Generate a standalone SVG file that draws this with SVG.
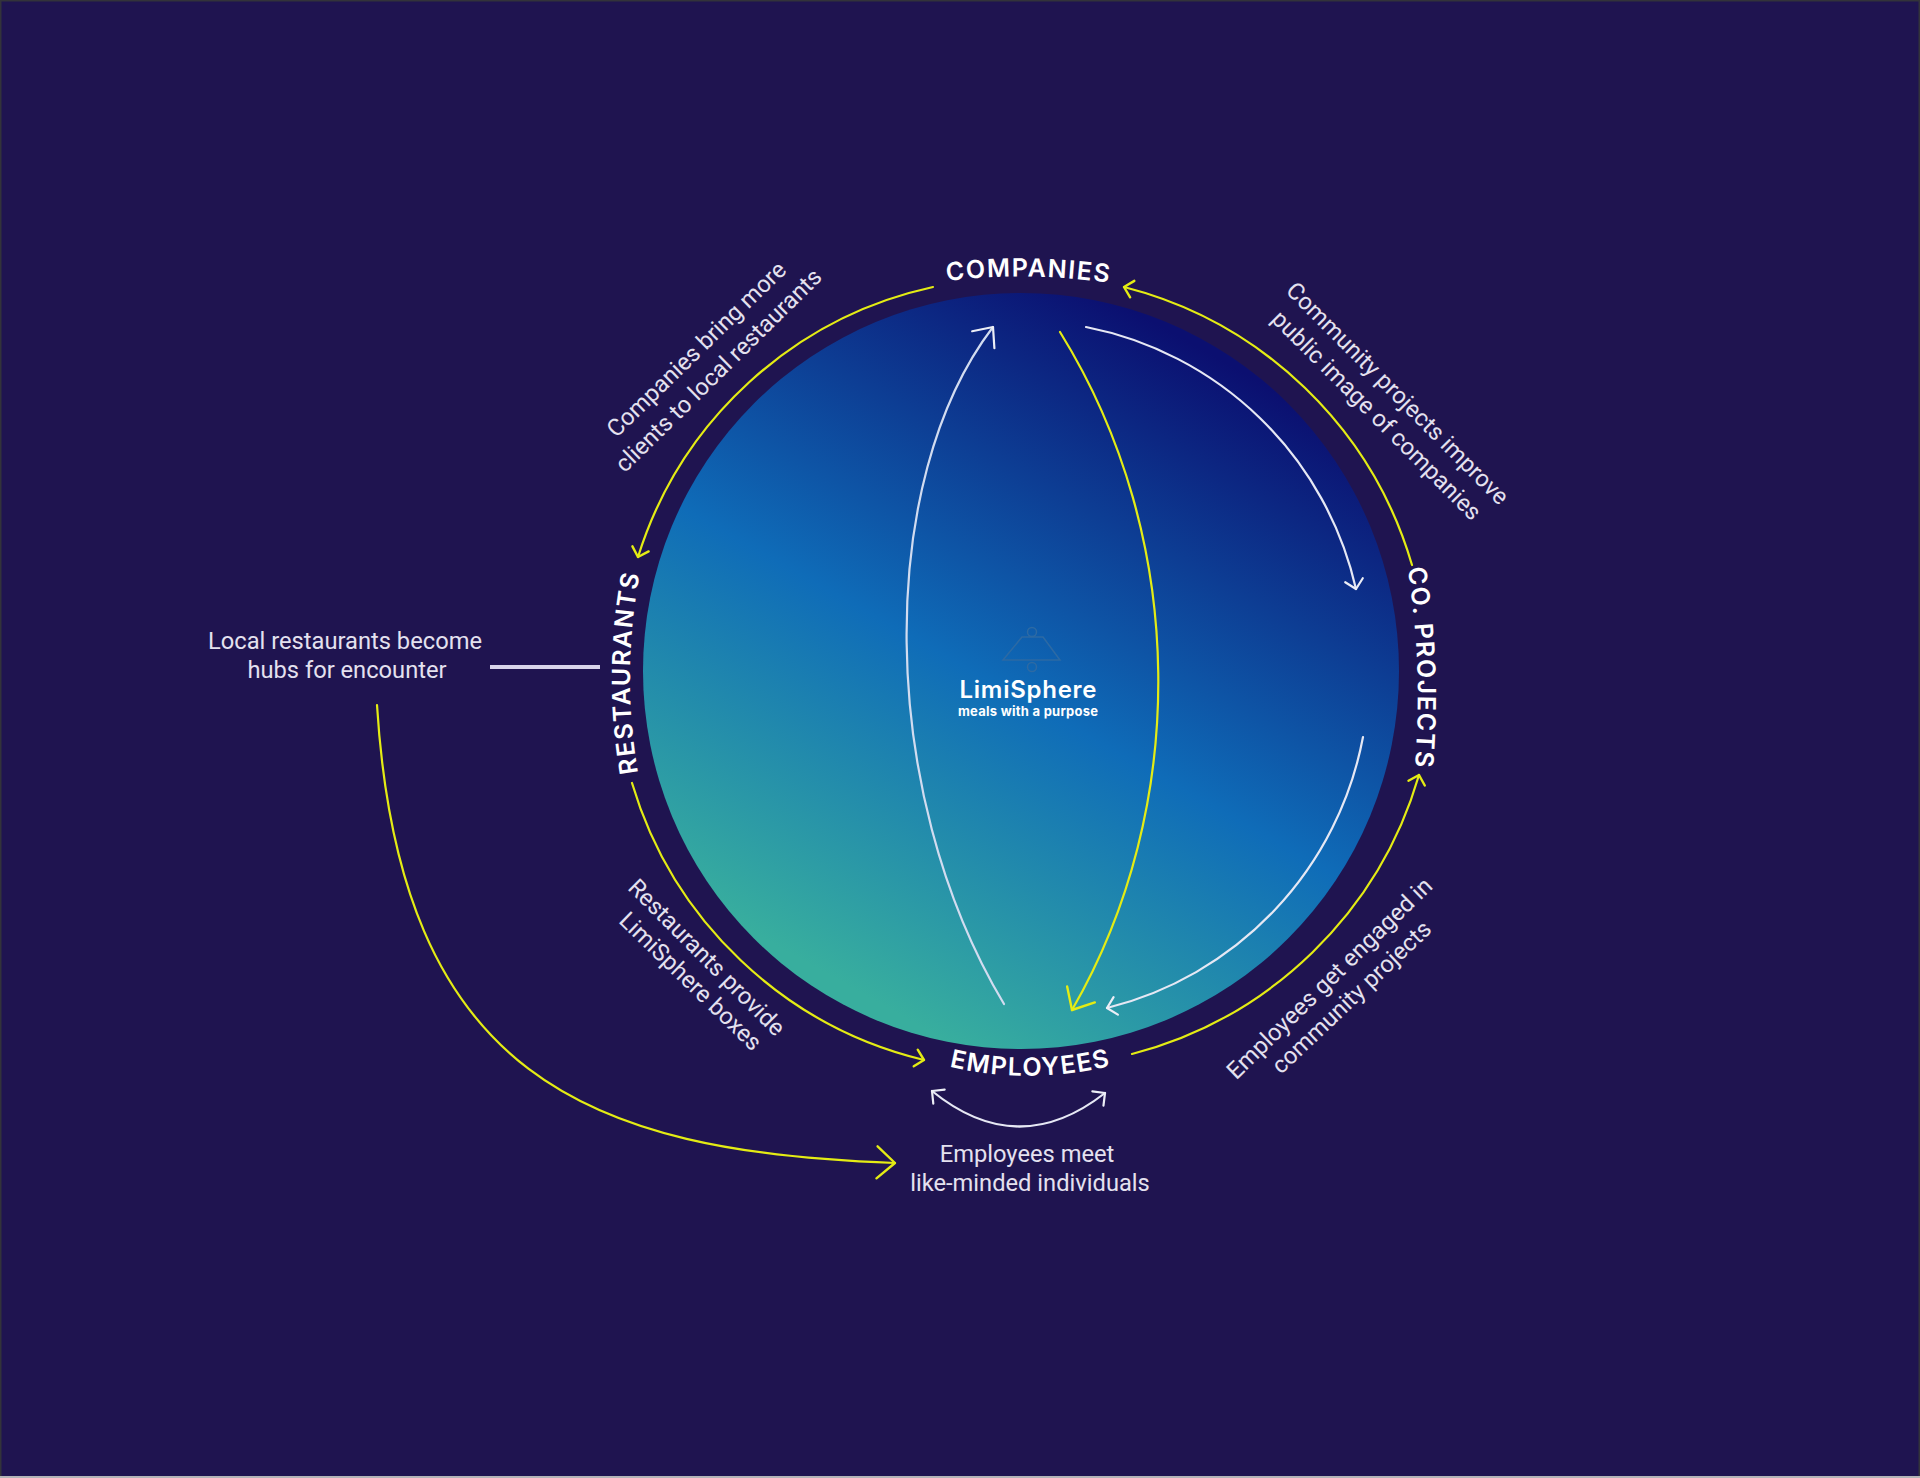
<svg xmlns="http://www.w3.org/2000/svg" width="1920" height="1478" viewBox="0 0 1920 1478">
<style>
.lbl{font-family:Roboto,"Liberation Sans",sans-serif;font-size:23.700px;fill:#e4e1ef;text-anchor:middle}
.nd{font-family:Inter,"Liberation Sans",sans-serif;font-size:25px;font-weight:600;fill:#fff;text-anchor:middle;letter-spacing:1.500px}
.y{fill:none;stroke:#e4ec14;stroke-width:2.200;stroke-linecap:round}
.w{fill:none;stroke:#e6e8f4;stroke-width:2.200;stroke-linecap:round}
.my{fill:none;stroke:#e4ec14;stroke-width:2.400;stroke-linecap:round;stroke-linejoin:round}
.mw{fill:none;stroke:#eceef6;stroke-width:2.200;stroke-linecap:round;stroke-linejoin:round}
</style>
<defs>
<linearGradient id="g" gradientUnits="userSpaceOnUse" x1="845" y1="984" x2="1202" y2="349">
<stop offset="0" stop-color="#38ae9e"/><stop offset=".46" stop-color="#0f6cb8"/><stop offset="1" stop-color="#0b0f70"/>
</linearGradient>
<marker id="ys" markerUnits="userSpaceOnUse" markerWidth="24" markerHeight="24" refX="12" refY="12" orient="auto" overflow="visible"><path class="my" d="M3.500 3.500L12 12L3.500 20.500"/></marker>
<marker id="yl" markerUnits="userSpaceOnUse" markerWidth="48" markerHeight="48" refX="24" refY="24" orient="auto" overflow="visible"><path class="my" d="M6 8L24 24L6 40"/></marker>
<marker id="ws" markerUnits="userSpaceOnUse" markerWidth="24" markerHeight="24" refX="12" refY="12" orient="auto-start-reverse" overflow="visible"><path class="mw" d="M3 3L12 12L3 21"/></marker>
<marker id="wl" markerUnits="userSpaceOnUse" markerWidth="48" markerHeight="48" refX="24" refY="24" orient="auto" overflow="visible"><path class="mw" d="M8 10L24 24L8 38"/></marker>
<path id="pc" d="M947 281Q1028 271 1110 283"/>
<path id="pp" d="M1408 570Q1423 668 1415 766"/>
<path id="pe" d="M951 1067Q1030 1085 1110 1066"/>
<path id="pr" d="M638 773Q621 673 640 573"/>
</defs>
<rect id="background" width="1920" height="1478" fill="#1f1450"/>
<path id="frame" fill="none" stroke="#33333a" stroke-width="1.500" d="M.75 1477V.75H1919.250V1477"/>
<path id="frame-bottom" fill="none" stroke="#b4b4b8" stroke-width="2" d="M0 1477H1920"/>
<g id="sphere"><circle cx="1021" cy="671" r="378" fill="url(#g)"/></g>
<g id="connectors">
<path class="y" marker-end="url(#ys)" d="M933 287A398 398 0 0 0 638 557"/>
<path class="y" marker-end="url(#ys)" d="M1412 565A404 404 0 0 0 1124 287"/>
<path class="y" marker-end="url(#ys)" d="M632 783A403 403 0 0 0 924 1060"/>
<path class="y" marker-end="url(#ys)" d="M1132 1054A405 405 0 0 0 1419 775"/>
<path class="w" style="stroke:#d2dcf0" marker-end="url(#wl)" d="M1004 1004C876 790 876 480 993 327"/>
<path class="y" marker-end="url(#yl)" d="M1060 332C1189 540 1189 807 1072 1010"/>
<path class="w" marker-end="url(#ws)" d="M1086 327A345 345 0 0 1 1356 589"/>
<path class="w" marker-end="url(#ws)" d="M1363 737A345 345 0 0 1 1107 1008"/>
<path class="w" marker-start="url(#ws)" marker-end="url(#ws)" d="M932 1091Q1018 1161 1105 1093"/>
<path class="y" marker-end="url(#yl)" d="M377 705C400 1075 585 1152 895 1163"/>
<path fill="none" stroke="#d8d4ea" stroke-width="4" d="M490 667H600"/>
</g>
<g id="node-companies"><text class="nd"><textPath href="#pc" startOffset="50%">COMPANIES</textPath></text></g>
<g id="node-co-projects"><text class="nd"><textPath href="#pp" startOffset="50%">CO. PROJECTS</textPath></text></g>
<g id="node-employees"><text class="nd"><textPath href="#pe" startOffset="50%">EMPLOYEES</textPath></text></g>
<g id="node-restaurants"><text class="nd"><textPath href="#pr" startOffset="50%">RESTAURANTS</textPath></text></g>
<g id="logo">
<g fill="none" stroke="#2d6aa4" stroke-width="1.500"><circle cx="1032" cy="632" r="4.500"/><path d="M1003 660L1022 637H1043L1060 660Z"/><circle cx="1032" cy="667" r="4.500"/></g>
<text x="1028" y="698" textLength="137" style="font-family:Inter,'Liberation Sans',sans-serif;font-size:24px;font-weight:600;fill:#fff;text-anchor:middle">LimiSphere</text>
<text x="1028" y="716" textLength="140" style="font-family:Inter,'Liberation Sans',sans-serif;font-size:13px;font-weight:700;fill:#fff;text-anchor:middle">meals with a purpose</text>
</g>
<g id="label-companies-restaurants">
<text class="lbl" transform="translate(702 355) rotate(-44.300)">Companies bring more</text>
<text class="lbl" transform="translate(724 376) rotate(-44.500)">clients to local restaurants</text>
</g>
<g id="label-projects-companies">
<text class="lbl" transform="translate(1392 399) rotate(45)">Community projects improve</text>
<text class="lbl" transform="translate(1371 421) rotate(45)">public image of companies</text>
</g>
<g id="label-restaurants-employees">
<text class="lbl" transform="translate(701 963) rotate(45)">Restaurants provide</text>
<text class="lbl" transform="translate(685 987) rotate(44)">LimiSphere boxes</text>
</g>
<g id="label-employees-projects">
<text class="lbl" transform="translate(1335 984) rotate(-44.300)">Employees get engaged in</text>
<text class="lbl" transform="translate(1357 1003) rotate(-43.500)">community projects</text>
</g>
<g id="label-hubs">
<text class="lbl" x="345" y="649">Local restaurants become</text>
<text class="lbl" x="347" y="678">hubs for encounter</text>
</g>
<g id="label-meet">
<text class="lbl" x="1027" y="1162">Employees meet</text>
<text class="lbl" x="1030" y="1191">like-minded individuals</text>
</g>
</svg>
